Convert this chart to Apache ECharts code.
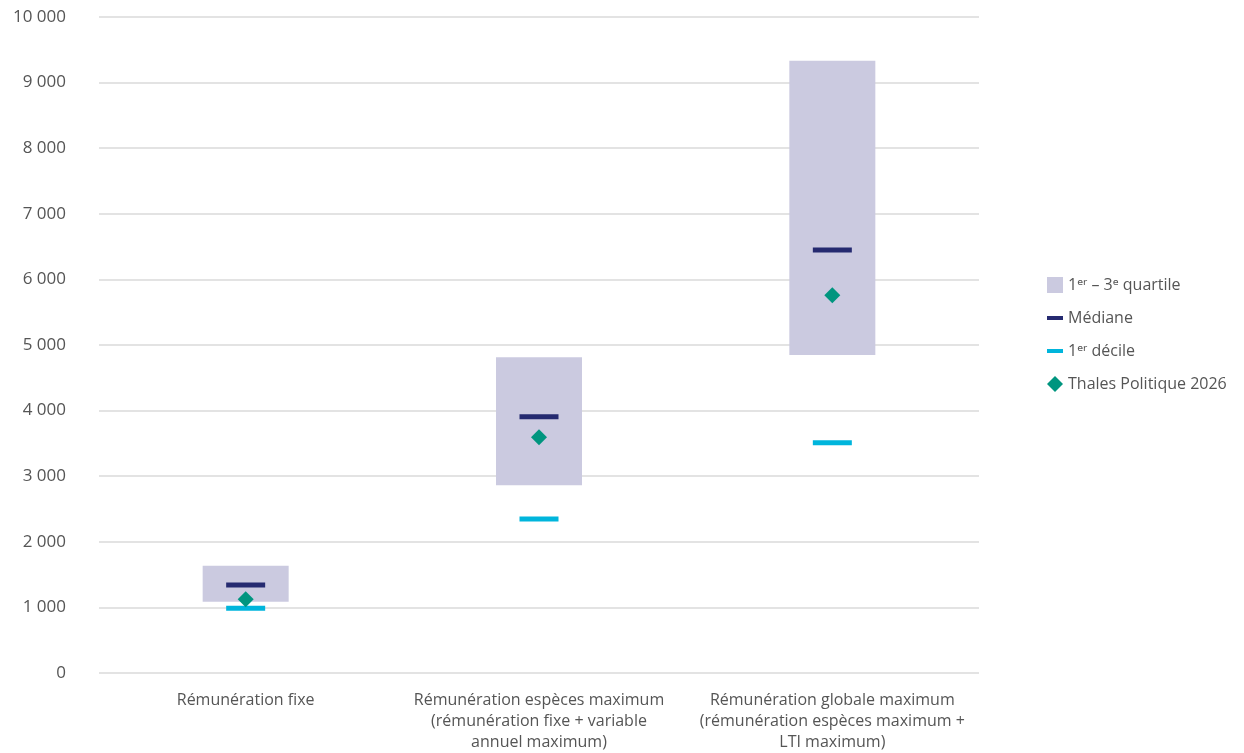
<!DOCTYPE html>
<html><head><meta charset="utf-8">
<script src="https://cdn.jsdelivr.net/npm/echarts@6/dist/echarts.min.js"></script>
<style>html,body{margin:0;padding:0;background:#fff}#c{width:1244px;height:753px}</style>
</head><body><div id="c"></div>
<script>
const categories = ["Rémunération fixe", "Rémunération espèces maximum\n(rémunération fixe + variable\nannuel maximum)", "Rémunération globale maximum\n(rémunération espèces maximum +\nLTI maximum)"];
const q1 = [1087, 2861, 4848];
const q3 = [1636, 4812, 9334];
const median = [1341, 3907, 6448];
const decile1 = [986, 2348, 3511];
const thales = [1123, 3593, 5757];
const yTicks = [0, 1000, 2000, 3000, 4000, 5000, 6000, 7000, 8000, 9000, 10000];

const span = q3.map((v, i) => v - q1[i]);
const font = '"Open Sans", "Noto Sans", sans-serif';
const chart = echarts.init(document.getElementById('c'));
chart.setOption({
  animation: false,
  textStyle: {fontFamily: font},
  grid: {left: 99, right: 265, top: 17, bottom: 78, containLabel: false},
  legend: {
    orient: 'vertical', left: 1042, top: 272, itemGap: 17, itemWidth: 16, itemHeight: 16,
    textStyle: {fontSize: 16, color: '#555', fontFamily: font},
    data: [
      {name: '1ᵉʳ – 3ᵉ quartile', icon: 'path://M1,1H15V15H1Z'},
      {name: 'Médiane', icon: 'path://M0,0H16V4H0Z'},
      {name: '1ᵉʳ décile', icon: 'path://M0,0H16V4H0Z'},
      {name: 'Thales Politique 2026', icon: 'diamond'}
    ]
  },
  xAxis: {
    type: 'category', data: categories,
    axisLine: {show: false}, axisTick: {show: false},
    axisLabel: {fontSize: 16, color: '#555', margin: 17, lineHeight: 21, interval: 0}
  },
  yAxis: {
    type: 'value', min: 0, max: 10000, interval: 1000,
    axisLine: {show: false}, axisTick: {show: false},
    splitLine: {lineStyle: {color: '#e3e3e3', width: 2}},
    axisLabel: {fontSize: 17, color: '#555', margin: 33,
      formatter: v => yTicks.includes(v) ? String(v).replace(/\B(?=(\d{3})+(?!\d))/g, ' ') : ''}
  },
  series: [
    {name: 'base', type: 'bar', stack: 'q', data: q1, barWidth: 86, itemStyle: {color: 'rgba(0,0,0,0)'}, silent: true},
    {name: '1ᵉʳ – 3ᵉ quartile', type: 'bar', stack: 'q', data: span, barWidth: 86, itemStyle: {color: '#cbcae0'}},
    {name: 'Médiane', type: 'scatter', data: median, symbol: 'rect', symbolSize: [39, 5], itemStyle: {color: '#252a70', opacity: 1}, z: 5},
    {name: '1ᵉʳ décile', type: 'scatter', data: decile1, symbol: 'rect', symbolSize: [39, 5], itemStyle: {color: '#00b5dc', opacity: 1}, z: 5},
    {name: 'Thales Politique 2026', type: 'scatter', data: thales, symbol: 'diamond', symbolSize: 16, itemStyle: {color: '#00957f', opacity: 1}, z: 6}
  ]
});
</script></body></html>
